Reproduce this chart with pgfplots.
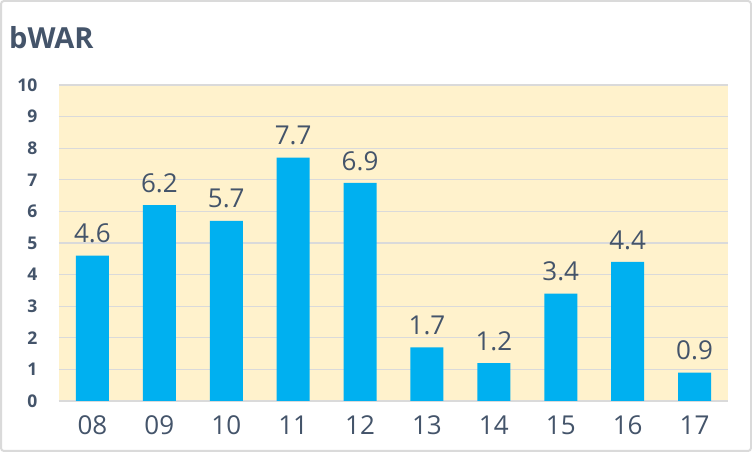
\documentclass[border=0pt]{standalone}
\usepackage{pgfplots}
\pgfplotsset{compat=1.18}
\usepackage{fontspec}
\setmainfont{Open Sans}
\definecolor{txt}{HTML}{44546A}
\definecolor{barc}{HTML}{00B0F0}
\definecolor{bg}{HTML}{FFF2CC}
\definecolor{gridc}{HTML}{DADADA}
\begin{document}
\begin{tikzpicture}[x=1pt,y=1pt]
\draw[gridc, line width=2pt, rounded corners=3pt, fill=white] (1,1) rectangle (751,451);
\node[anchor=base west, inner sep=0pt, text=txt, font=\fontsize{29}{29}\selectfont\bfseries] at (9,403) {bWAR};
\begin{axis}[
  at={(59pt,51pt)}, anchor=south west,
  scale only axis, width=669pt, height=316pt,
  xmin=-0.5, xmax=9.5, ymin=0, ymax=10,
  ytick={0,1,...,10},
  xtick={0,...,9},
  xticklabels={08,09,10,11,12,13,14,15,16,17},
  axis x line*=bottom, axis y line*=left,
  x axis line style={gridc, line width=1.6pt, -},
  y axis line style={draw=none},
  ymajorgrids, major grid style={gridc, line width=1.3pt},
  tick style={draw=none},
  major tick length=0pt,
  axis background/.style={fill=bg},
  /pgf/number format/assume math mode=true,
  yticklabel style={font=\fontsize{17.5}{17.5}\selectfont\bfseries, text=txt, anchor=east, xshift=-18pt},
  xticklabel style={font=\fontsize{26}{26}\selectfont, text=txt, yshift=-11pt},
  ybar, bar width=33pt,
  nodes near coords,
  nodes near coords style={font=\fontsize{26}{26}\selectfont, text=txt, yshift=9pt},
  every node near coord/.append style={/pgf/number format/.cd, fixed, fixed zerofill, precision=1},
  clip=false,
]
\addplot[fill=barc, draw=none] coordinates {(0,4.6) (1,6.2) (2,5.7) (3,7.7) (4,6.9) (5,1.7) (6,1.2) (7,3.4) (8,4.4) (9,0.9)};
\end{axis}
\end{tikzpicture}
\end{document}
